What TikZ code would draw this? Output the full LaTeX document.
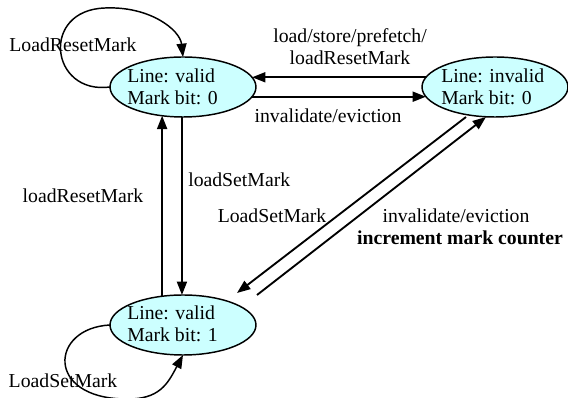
\documentclass[tikz,border=0pt]{standalone}
\usepackage{fontspec}
\setmainfont{Liberation Serif}
\usetikzlibrary{arrows.meta,shapes.geometric}
\definecolor{statefill}{RGB}{204,255,255}
\begin{document}
\begin{tikzpicture}[x=0.75pt,y=-0.75pt,
  state/.style={ellipse,draw=black,line width=1.1pt,fill=statefill,minimum width=109.5pt,minimum height=45pt,inner sep=0pt,outer sep=0pt},
  txt/.style={font=\fontsize{14.8}{16.5}\selectfont,inner sep=0pt,text=black},
  btxt/.style={font=\fontsize{14.8}{16.5}\selectfont\bfseries,inner sep=0pt,text=black},
  edge/.style={line width=1.4pt,-{Triangle[length=10pt,width=7.5pt]}},
  loopedge/.style={line width=1.1pt,-{Triangle[length=10pt,width=7.5pt]}}]
\useasboundingbox (0,0) rectangle (568,398);

% states
\node[state] (A) at (183,87) {};
\node[state] (B) at (495,87) {};
\node[state] (C) at (183,325) {};
\node[txt,anchor=west,align=left] (At) at (127,87) {Line: valid\\Mark bit: 0};
\node[txt,anchor=west,align=left] (Bt) at (441,87) {Line: invalid\\Mark bit: 0};
\node[txt,anchor=west,align=left] (Ct) at (127,324) {Line: valid\\Mark bit: 1};

% A <-> B
\draw[edge] (B.172) -- (A.8);
\draw[edge] (A.352) -- (B.188);

% A <-> C
\draw[edge] (C.126) -- (A.234);
\draw[edge] (A.268) -- (C.92);

% B <-> C
\draw[edge] ([shift={(-29,30)}]B.center) -- ([shift={(54,-32)}]C.center);
\draw[edge] ([shift={(74,-30)}]C.center) -- ([shift={(-9,30)}]B.center);

% self loops
\draw[loopedge] (A.west) .. controls (50,95) and (40,10) .. (105,8)
  .. controls (150,6) and (180,30) .. (A.north);
\draw[loopedge] (C.west) .. controls (50,328) and (45,398) .. (125,399)
  .. controls (160,400) and (168,383) .. (C.south);

% labels
\node[txt,align=center] (l1) at (350,47) {load/store/prefetch/\\loadResetMark};
\node[txt] (l2) at (328,116) {invalidate/eviction};
\node[txt,anchor=west] (l3) at (188,180) {loadSetMark};
\node[txt] (l4) at (83,196) {loadResetMark};
\node[txt] (l5) at (272,216) {LoadSetMark};
\node[txt] (l6) at (456,216) {invalidate/eviction};
\node[btxt] (l7) at (460,238) {increment mark counter};
\node[txt] (l8) at (73,45) {LoadResetMark};
\node[txt] (l9) at (63,381) {LoadSetMark};
\end{tikzpicture}
\end{document}
